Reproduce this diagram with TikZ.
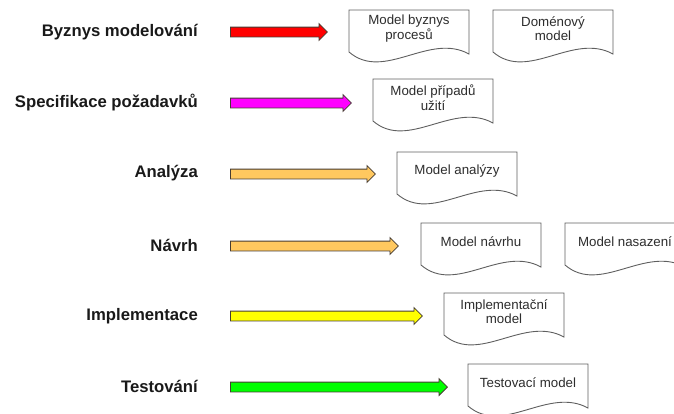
\documentclass[tikz,border=0pt]{standalone}
\usepackage{fontspec}
\setmainfont{Liberation Sans}
\usetikzlibrary{shapes.arrows}
\definecolor{arrline}{RGB}{70,60,50}
\definecolor{docline}{RGB}{95,95,95}
\definecolor{doctxt}{RGB}{45,45,45}
\definecolor{lbltxt}{RGB}{25,25,25}
\definecolor{cRed}{RGB}{255,0,0}
\definecolor{cMag}{RGB}{255,0,255}
\definecolor{cOrange}{RGB}{255,200,95}
\definecolor{cYellow}{RGB}{255,255,0}
\definecolor{cGreen}{RGB}{0,255,0}
\tikzset{
  phase/.style={anchor=east, inner sep=0pt, text=lbltxt,
    font=\fontsize{16.7}{18}\selectfont\bfseries},
  flowarrow/.style={single arrow, draw=arrline, line width=0.8pt,
    single arrow head extend=3.5pt, single arrow head indent=0pt,
    inner xsep=0pt, inner ysep=4.5pt, anchor=west},
  docedge/.style={draw=docline, line width=0.9pt, fill=white},
  doctext/.style={align=center, inner sep=0pt, text=doctxt,
    font=\fontsize{13.3}{14.5}\selectfont},
}
% document symbol with wavy bottom, top-left corner at (#2,#3)
\newcommand\docsym[4]{%
  \begin{scope}[shift={(#2,#3)}]
    \draw[docedge] (0,0) -- (120,0) -- (120,44)
      .. controls (80,22) and (35,72) .. (0,42) -- cycle;
    \node[doctext] (#1) at (60,18.5) {#4};
  \end{scope}}
\begin{document}
\begin{tikzpicture}[x=1pt, y=-1pt]
  \useasboundingbox (0,0) rectangle (674,413);
  \clip (0,0) rectangle (674,413);

  % phases
  \node[phase] (l1) at (198,32) {Byznys modelování};
  \node[phase] (l2) at (198,103) {Specifikace požadavků};
  \node[phase] (l3) at (198,173) {Analýza};
  \node[phase] (l4) at (198,245) {Návrh};
  \node[phase] (l5) at (198,316) {Implementace};
  \node[phase] (l6) at (198,386) {Testování};

  % arrows
  \node[flowarrow, fill=cRed,    minimum height=97pt]  (a1) at (230,32) {};
  \node[flowarrow, fill=cMag,    minimum height=121pt] (a2) at (230,103) {};
  \node[flowarrow, fill=cOrange, minimum height=145pt] (a3) at (230,174) {};
  \node[flowarrow, fill=cOrange, minimum height=168pt] (a4) at (230,246) {};
  \node[flowarrow, fill=cYellow, minimum height=192pt] (a5) at (230,316) {};
  \node[flowarrow, fill=cGreen,  minimum height=217pt] (a6) at (230,387) {};

  % artefacts
  \docsym{d1}{349}{10}{Model byznys\\procesů}
  \docsym{d2}{493}{10}{Doménový\\model}
  \docsym{d3}{373}{79}{Model případů\\užití}
  \docsym{d4}{397}{152}{Model analýzy}
  \docsym{d5}{421}{223}{Model návrhu}
  \docsym{d6}{565}{223}{Model nasazení}
  \docsym{d7}{444}{293}{Implementační\\model}
  \docsym{d8}{468}{364}{Testovací model}
\end{tikzpicture}
\end{document}
